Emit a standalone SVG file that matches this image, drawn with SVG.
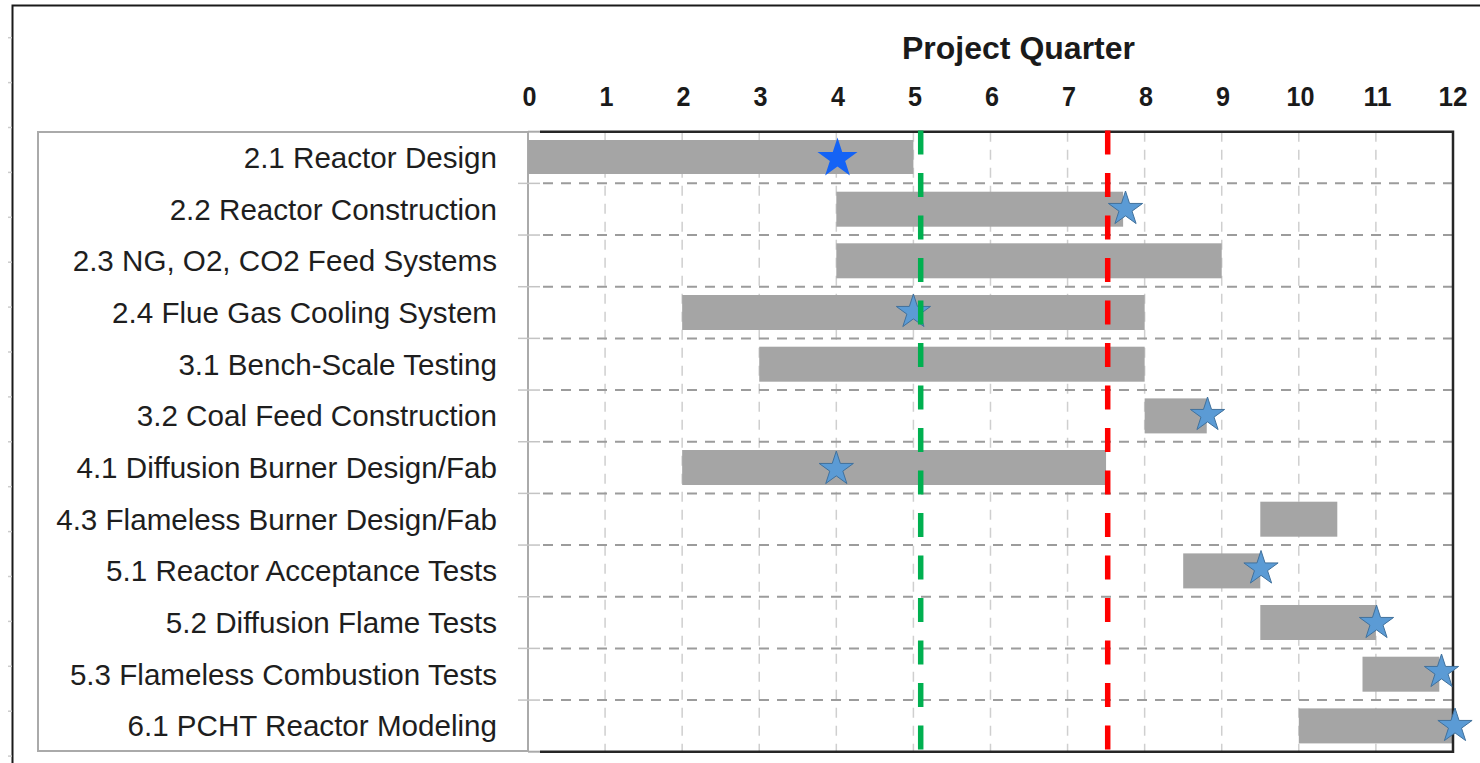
<svg xmlns="http://www.w3.org/2000/svg" width="1480" height="763" viewBox="0 0 1480 763">
<style>
.lbl{font-family:"Liberation Sans",Arial,sans-serif;font-size:29.6px;fill:#1e1e1e;text-anchor:end}
.tick{font-family:"Liberation Sans",Arial,sans-serif;font-size:28.5px;font-weight:bold;fill:#1a1a1a;text-anchor:middle}
.title{font-family:"Liberation Sans",Arial,sans-serif;font-size:32px;font-weight:bold;fill:#1a1a1a;text-anchor:middle}
.bar{fill:#a5a5a5}
.vg{stroke:#cfcfcf;stroke-width:1.5;stroke-dasharray:10 8;fill:none}
.hg{stroke:#9c9c9c;stroke-width:2;stroke-dasharray:10 8;fill:none}
.cat{stroke:#c4c4c4;stroke-width:1.5}
.star{fill:#5b9bd5;stroke:#41719c;stroke-width:1}
.bigstar{fill:#1463f5}
.ms{stroke-width:5.5;stroke-dasharray:24 18.5;fill:none}
.edge{stroke:#cccccc;stroke-width:1.5}
</style>
<defs>
<polygon id="st" points="0,-18 4.04,-5.57 17.12,-5.56 6.54,2.13 10.58,14.56 0,6.88 -10.58,14.56 -6.54,2.13 -17.12,-5.56 -4.04,-5.57"/>
</defs>
<rect x="0" y="0" width="1480" height="763" fill="#ffffff"/>
<g id="frame">
<path d="M1480,5.5 H12.5 V763" fill="none" stroke="#1a1a1a" stroke-width="2"/>
<g class="edge">
<line x1="8" y1="37.7" x2="12" y2="37.7"/><line x1="8" y1="82.6" x2="12" y2="82.6"/><line x1="8" y1="127.5" x2="12" y2="127.5"/><line x1="8" y1="172.4" x2="12" y2="172.4"/><line x1="8" y1="217.3" x2="12" y2="217.3"/><line x1="8" y1="262.2" x2="12" y2="262.2"/><line x1="8" y1="307.1" x2="12" y2="307.1"/><line x1="8" y1="352" x2="12" y2="352"/><line x1="8" y1="396.9" x2="12" y2="396.9"/><line x1="8" y1="441.8" x2="12" y2="441.8"/><line x1="8" y1="486.7" x2="12" y2="486.7"/><line x1="8" y1="531.6" x2="12" y2="531.6"/><line x1="8" y1="576.5" x2="12" y2="576.5"/><line x1="8" y1="621.4" x2="12" y2="621.4"/><line x1="8" y1="666.3" x2="12" y2="666.3"/><line x1="8" y1="711.2" x2="12" y2="711.2"/><line x1="8" y1="756.1" x2="12" y2="756.1"/>
</g>
</g>
<g id="label-box">
<rect x="38" y="132" width="490" height="619" fill="#ffffff" stroke="#aaaaaa" stroke-width="2"/>
</g>
<g id="grid">
<line class="vg" x1="605.08" y1="131.7" x2="605.08" y2="751.7"/>
<line class="vg" x1="682.16" y1="131.7" x2="682.16" y2="751.7"/>
<line class="vg" x1="759.24" y1="131.7" x2="759.24" y2="751.7"/>
<line class="vg" x1="836.32" y1="131.7" x2="836.32" y2="751.7"/>
<line class="vg" x1="913.4" y1="131.7" x2="913.4" y2="751.7"/>
<line class="vg" x1="990.48" y1="131.7" x2="990.48" y2="751.7"/>
<line class="vg" x1="1067.56" y1="131.7" x2="1067.56" y2="751.7"/>
<line class="vg" x1="1144.64" y1="131.7" x2="1144.64" y2="751.7"/>
<line class="vg" x1="1221.72" y1="131.7" x2="1221.72" y2="751.7"/>
<line class="vg" x1="1298.8" y1="131.7" x2="1298.8" y2="751.7"/>
<line class="vg" x1="1375.88" y1="131.7" x2="1375.88" y2="751.7"/>
<line class="hg" x1="543" y1="183.37" x2="1453" y2="183.37"/>
<line class="hg" x1="543" y1="235.04" x2="1453" y2="235.04"/>
<line class="hg" x1="543" y1="286.71" x2="1453" y2="286.71"/>
<line class="hg" x1="543" y1="338.38" x2="1453" y2="338.38"/>
<line class="hg" x1="543" y1="390.05" x2="1453" y2="390.05"/>
<line class="hg" x1="543" y1="441.72" x2="1453" y2="441.72"/>
<line class="hg" x1="543" y1="493.39" x2="1453" y2="493.39"/>
<line class="hg" x1="543" y1="545.06" x2="1453" y2="545.06"/>
<line class="hg" x1="543" y1="596.73" x2="1453" y2="596.73"/>
<line class="hg" x1="543" y1="648.4" x2="1453" y2="648.4"/>
<line class="hg" x1="543" y1="700.07" x2="1453" y2="700.07"/>
<g class="cat">
<line x1="518" y1="183.37" x2="540" y2="183.37"/><line x1="518" y1="235.04" x2="540" y2="235.04"/><line x1="518" y1="286.71" x2="540" y2="286.71"/><line x1="518" y1="338.38" x2="540" y2="338.38"/><line x1="518" y1="390.05" x2="540" y2="390.05"/><line x1="518" y1="441.72" x2="540" y2="441.72"/><line x1="518" y1="493.39" x2="540" y2="493.39"/><line x1="518" y1="545.06" x2="540" y2="545.06"/><line x1="518" y1="596.73" x2="540" y2="596.73"/><line x1="518" y1="648.4" x2="540" y2="648.4"/><line x1="518" y1="700.07" x2="540" y2="700.07"/>
</g>
</g>
<g id="title"><text class="title" x="1018.5" y="59">Project Quarter</text></g>
<g id="axis-labels">
<text class="tick" x="529.5" y="106" textLength="14" lengthAdjust="spacingAndGlyphs">0</text>
<text class="tick" x="606.5" y="106" textLength="14" lengthAdjust="spacingAndGlyphs">1</text>
<text class="tick" x="683.5" y="106" textLength="14" lengthAdjust="spacingAndGlyphs">2</text>
<text class="tick" x="760.5" y="106" textLength="14" lengthAdjust="spacingAndGlyphs">3</text>
<text class="tick" x="838" y="106" textLength="14" lengthAdjust="spacingAndGlyphs">4</text>
<text class="tick" x="915" y="106" textLength="14" lengthAdjust="spacingAndGlyphs">5</text>
<text class="tick" x="992" y="106" textLength="14" lengthAdjust="spacingAndGlyphs">6</text>
<text class="tick" x="1069" y="106" textLength="14" lengthAdjust="spacingAndGlyphs">7</text>
<text class="tick" x="1146" y="106" textLength="14" lengthAdjust="spacingAndGlyphs">8</text>
<text class="tick" x="1223" y="106" textLength="14" lengthAdjust="spacingAndGlyphs">9</text>
<text class="tick" x="1300.5" y="106" textLength="28" lengthAdjust="spacingAndGlyphs">10</text>
<text class="tick" x="1377.5" y="106" textLength="28" lengthAdjust="spacingAndGlyphs">11</text>
<text class="tick" x="1453" y="106" textLength="29" lengthAdjust="spacingAndGlyphs">12</text>
</g>
<g id="task-2-1"><rect class="bar" x="528" y="140" width="385.4" height="34"/><text class="lbl" x="497" y="168">2.1 Reactor Design</text></g>
<g id="task-2-2"><rect class="bar" x="836.32" y="191.7" width="286.8" height="35"/><text class="lbl" x="497" y="219.7">2.2 Reactor Construction</text></g>
<g id="task-2-3"><rect class="bar" x="836.32" y="243.3" width="385.4" height="35"/><text class="lbl" x="497" y="271.4">2.3 NG, O2, CO2 Feed Systems</text></g>
<g id="task-2-4"><rect class="bar" x="682.16" y="295" width="462.5" height="35"/><text class="lbl" x="497" y="323">2.4 Flue Gas Cooling System</text></g>
<g id="task-3-1"><rect class="bar" x="759.24" y="346.7" width="385.4" height="35"/><text class="lbl" x="497" y="374.7">3.1 Bench-Scale Testing</text></g>
<g id="task-3-2"><rect class="bar" x="1144.64" y="398.4" width="62.1" height="35"/><text class="lbl" x="497" y="426.4">3.2 Coal Feed Construction</text></g>
<g id="task-4-1"><rect class="bar" x="682.16" y="450" width="423.9" height="35"/><text class="lbl" x="497" y="478.1">4.1 Diffusion Burner Design/Fab</text></g>
<g id="task-4-3"><rect class="bar" x="1260.3" y="501.7" width="77" height="35"/><text class="lbl" x="497" y="529.7">4.3 Flameless Burner Design/Fab</text></g>
<g id="task-5-1"><rect class="bar" x="1183.2" y="553.4" width="77.1" height="35"/><text class="lbl" x="497" y="581.4">5.1 Reactor Acceptance Tests</text></g>
<g id="task-5-2"><rect class="bar" x="1260.3" y="605" width="115.6" height="35"/><text class="lbl" x="497" y="633.1">5.2 Diffusion Flame Tests</text></g>
<g id="task-5-3"><rect class="bar" x="1362.5" y="656.7" width="76.8" height="35"/><text class="lbl" x="497" y="684.7">5.3 Flameless Combustion Tests</text></g>
<g id="task-6-1"><rect class="bar" x="1298.8" y="708.4" width="154.2" height="35"/><text class="lbl" x="497" y="736.4">6.1 PCHT Reactor Modeling</text></g>
<g id="plot-border" fill="none">
<line x1="528" y1="131.7" x2="540" y2="131.7" stroke="#aaaaaa" stroke-width="2"/>
<line x1="528" y1="751.7" x2="540" y2="751.7" stroke="#aaaaaa" stroke-width="2"/>
<path d="M540,131.7 H1453 V751.7 H540" stroke="#262626" stroke-width="2.5"/>
</g>
<g id="milestones">
<use href="#st" class="bigstar" transform="translate(837.5,158.5) scale(1.17)"/>
<use href="#st" class="star" x="1125.5" y="209"/>
<use href="#st" class="star" x="913.4" y="312"/>
<use href="#st" class="star" x="1207.5" y="415"/>
<use href="#st" class="star" x="836.3" y="469"/>
<use href="#st" class="star" x="1261" y="568.5"/>
<use href="#st" class="star" x="1376.5" y="623"/>
<use href="#st" class="star" x="1441.5" y="672"/>
<use href="#st" class="star" x="1455" y="726"/>
</g>
<g id="connectors">
<line class="ms" x1="920.7" y1="130.5" x2="920.7" y2="751" stroke="#00b050"/>
<line class="ms" x1="1107.7" y1="130.5" x2="1107.7" y2="751" stroke="#ff0000"/>
</g>
</svg>
